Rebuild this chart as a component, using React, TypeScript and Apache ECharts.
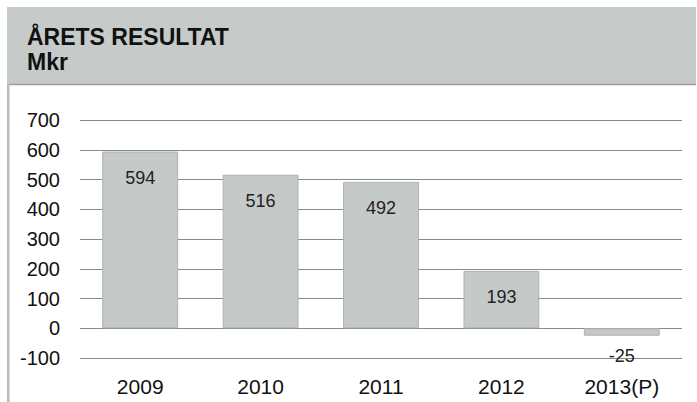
import React, { useEffect, useRef } from "react";
import * as echarts from "echarts";

const categories = ["2009", "2010", "2011", "2012", "2013(P)"];
const values = [594, 516, 492, 193, -25];
const titleLines = ["ÅRETS RESULTAT", "Mkr"];

export default function App() {
  const ref = useRef<HTMLDivElement>(null);
  useEffect(() => {
    document.body.style.margin = "0";
    const chart = echarts.init(ref.current!, null, { renderer: "svg" });
    const font = "'Liberation Sans', Arial, sans-serif";
    chart.setOption({
      animation: false,
      backgroundColor: "#ffffff",
      graphic: [
        { type: "rect", shape: { x: 7, y: 7, width: 689, height: 77 }, style: { fill: "#c6cbca" } },
        { type: "line", shape: { x1: 7, y1: 84.5, x2: 696, y2: 84.5 }, style: { stroke: "#9a9e9d", lineWidth: 1.5 } },
        { type: "rect", shape: { x: 7, y: 84, width: 2.5, height: 318 }, style: { fill: "#b8bdbc" } },
        { type: "text", x: 27, y: 37, style: { text: titleLines[0], font: `bold 23px ${font}`, fill: "#111", verticalAlign: "middle" } },
        { type: "text", x: 27, y: 62, style: { text: titleLines[1], font: `bold 23px ${font}`, fill: "#111", verticalAlign: "middle" } },
      ],
      grid: { left: 80, right: 15, top: 120, bottom: 44 },
      xAxis: {
        type: "category",
        data: categories,
        axisLine: { show: false, onZero: false },
        axisTick: { show: false },
        axisLabel: { fontFamily: font, fontSize: 21, color: "#111", margin: 18 },
      },
      yAxis: {
        type: "value",
        min: -100,
        max: 700,
        interval: 100,
        axisLine: { show: false },
        axisTick: { show: false },
        axisLabel: { fontFamily: font, fontSize: 20, color: "#111", margin: 20 },
        splitLine: { lineStyle: { color: "#8a8a8a", width: 1.2 } },
      },
      series: [
        {
          type: "bar",
          barWidth: "63%",
          data: values.map((v) =>
            v < 0
              ? { value: v, label: { position: "bottom", distance: 11 } }
              : { value: v }
          ),
          itemStyle: { color: "#c5cac9", borderColor: "#adb1b0", borderWidth: 1 },
          label: {
            show: true,
            position: "insideTop",
            distance: 17,
            fontFamily: font,
            fontSize: 18,
            color: "#222",
          },
        },
      ],
    });
    return () => chart.dispose();
  }, []);
  return <div ref={ref} style={{ position: "fixed", left: 0, top: 0, width: 697, height: 402 }} />;
}
